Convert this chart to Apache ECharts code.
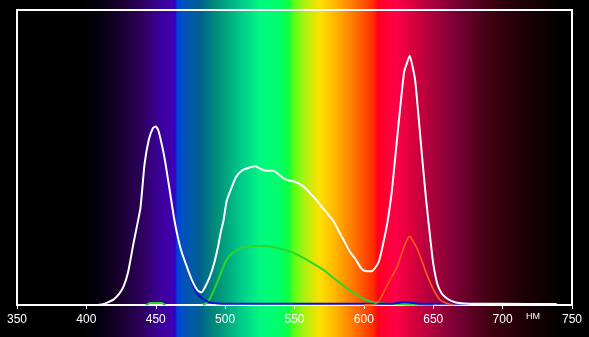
<!DOCTYPE html>
<html>
<head>
<meta charset="utf-8">
<script src="https://cdn.jsdelivr.net/npm/echarts@6/dist/echarts.min.js"></script>
<style>
html,body{margin:0;padding:0;background:#000;}
#c{width:589px;height:337px;}
</style>
</head>
<body>
<div id="c"></div>
<script>
// Tick labels
const xTicks = [350, 400, 450, 500, 550, 600, 650, 700, 750];
const unitLabel = 'НМ';

// White (total) spectrum
const whiteNm  = [350, 405, 412, 415, 420, 424, 427, 430, 434, 437, 439, 442, 445, 448, 450, 452, 455, 457, 460, 463, 465, 468, 472, 476, 480, 483, 486, 489, 492, 495, 497, 499, 501, 504, 508, 512, 517, 522, 526, 530, 535, 538, 542, 546, 550, 554, 558, 562, 566, 570, 574, 578, 582, 586, 590, 594, 598, 601, 605, 608, 611, 614, 617, 620, 623, 626, 629, 631, 633, 635, 637, 639, 642, 645, 648, 650, 653, 656, 660, 665, 670, 680, 700, 739];
const whiteVal = [0, 0, 0.3, 0.8, 2, 4, 6.5, 11, 21, 28, 33, 48, 56, 60, 60.5, 59, 53, 48, 39, 30, 25, 19, 13.5, 8.5, 5, 4.3, 6.5, 9.6, 14, 20, 25, 29, 35, 39, 43.5, 45.5, 46.5, 47, 46, 45.5, 45.5, 44.5, 43, 42.2, 41.8, 41, 39.5, 37.5, 35.5, 33, 30.8, 28.5, 25, 21.5, 18, 15.5, 12.5, 11.5, 11.4, 12.5, 15, 21, 28, 38, 52, 66, 79, 82, 84.5, 81, 76, 66, 50, 35, 22, 14, 7, 4, 2.2, 1, 0.6, 0.4, 0.4, 0.3];

// Green channel (null = gap in the drawn line)
const greenNm  = [443, 446, 454, 457, 470, 484, 487, 490, 494, 498, 501, 505, 511, 516, 521, 527, 533, 540, 547, 553, 559, 565, 571, 577, 583, 589, 595, 600, 605, 612, 620, 630, 650];
const greenVal = [0, 0.7, 0.7, 0, null, 0, 0.8, 3, 7.3, 12, 15.3, 17.5, 19.2, 19.8, 20, 20, 19.8, 19, 18.1, 16.8, 15.3, 13.6, 11.9, 9.6, 7.4, 5.2, 3.4, 2, 1.1, 0.6, 0.3, 0.2, 0];

// Red channel (orange line)
const redNm  = [600, 608, 611, 614, 617, 620, 624, 628, 631, 633, 635, 638, 641, 644, 648, 651, 655, 660, 665];
const redVal = [0, 0.3, 1.5, 4, 7, 9.5, 13, 18.5, 22, 23.3, 22, 19.5, 16, 12, 7.4, 4.5, 1.7, 0.5, 0];

// Blue channel
const blueNm  = [465, 468, 472, 476, 479, 482, 486, 490, 495, 500, 560, 620, 626, 630, 634, 640, 676];
const blueVal = [25, 19, 13.5, 8, 4.5, 2.8, 1.5, 0.8, 0.5, 0.4, 0.4, 0.4, 0.8, 1, 0.8, 0.4, 0.4];

const pairs = (xs, ys) => xs.map((x, i) => [x, ys[i] === null ? '-' : ys[i]]);

const W = 589;
const bgStops = [
  [0, '#000000'], [80, '#000000'], [100, '#06000f'], [120, '#18002e'], [140, '#2c0058'],
  [160, '#3c009a'], [172, '#4000b0'], [175, '#3000c0'], [177, '#0040e0'], [182, '#0050c0'],
  [200, '#006090'], [215, '#008a7a'], [240, '#00c888'], [260, '#00f882'], [280, '#00ff68'],
  [289, '#10ff40'], [293, '#50ff18'], [305, '#b0f010'], [320, '#ffe000'], [332, '#ffc000'],
  [346, '#ff9000'], [360, '#ff6000'], [374, '#ff2800'], [378, '#ff0020'], [395, '#ff0048'],
  [410, '#e0003c'], [430, '#b00040'], [460, '#700030'], [490, '#400012'], [520, '#200008'],
  [550, '#0a0002'], [570, '#000000'], [589, '#000000']
];

const chart = echarts.init(document.getElementById('c'), null, {renderer: 'canvas'});
chart.setOption({
  animation: false,
  backgroundColor: new echarts.graphic.LinearGradient(0, 0, 1, 0,
    bgStops.map(s => ({offset: s[0] / W, color: s[1]}))),
  grid: {
    left: 17, right: 17, top: 10, bottom: 32,
    show: true, borderColor: '#ffffff', borderWidth: 2, backgroundColor: 'transparent'
  },
  xAxis: {
    type: 'value', min: xTicks[0], max: xTicks[xTicks.length - 1], interval: 50,
    axisLine: {show: true, lineStyle: {color: '#ffffff', width: 2}},
    axisTick: {show: true, length: 4, inside: false, lineStyle: {color: '#ffffff', width: 1}},
    axisLabel: {color: '#ffffff', fontSize: 12, fontFamily: 'Liberation Sans, Arial, sans-serif', margin: 9},
    splitLine: {show: false}
  },
  yAxis: {
    type: 'value', min: 0, max: 100, show: false, splitLine: {show: false}
  },
  graphic: [{
    type: 'text', left: 526, top: 312,
    style: {text: unitLabel, fill: '#ffffff', fontSize: 9, fontFamily: 'Liberation Sans, Arial, sans-serif'}
  }],
  series: [
    {type: 'line', data: pairs(greenNm, greenVal), showSymbol: false, smooth: 0.2, connectNulls: false,
     lineStyle: {color: '#2ad62a', width: 2}, z: 2},
    {type: 'line', data: pairs(blueNm, blueVal), showSymbol: false, smooth: 0.2,
     lineStyle: {color: '#0a0ae6', width: 2}, z: 3},
    {type: 'line', data: pairs(redNm, redVal), showSymbol: false, smooth: 0.2,
     lineStyle: {color: '#ff5a1a', width: 1.6}, z: 4},
    {type: 'line', data: pairs(whiteNm, whiteVal), showSymbol: false, smooth: 0.2,
     lineStyle: {color: '#ffffff', width: 2}, z: 5}
  ]
});
</script>
</body>
</html>
